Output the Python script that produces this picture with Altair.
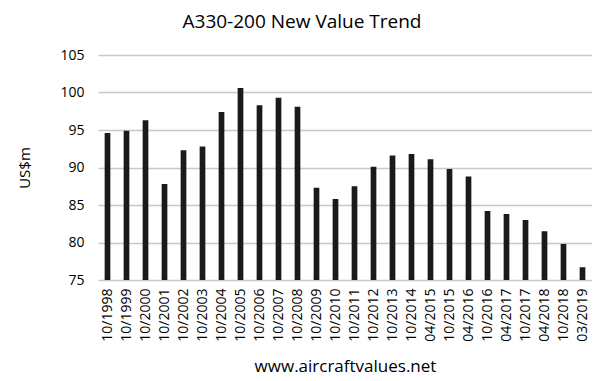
import altair as alt
import pandas as pd

dates = ["10/1998", "10/1999", "10/2000", "10/2001", "10/2002", "10/2003", "10/2004",
         "10/2005", "10/2006", "10/2007", "10/2008", "10/2009", "10/2010", "10/2011",
         "10/2012", "10/2013", "10/2014", "04/2015", "10/2015", "04/2016", "10/2016",
         "04/2017", "10/2017", "04/2018", "10/2018", "03/2019"]
values = [94.6, 94.9, 96.3, 87.8, 92.3, 92.8, 97.4, 100.6, 98.3, 99.3, 98.1, 87.3,
          85.8, 87.5, 90.1, 91.6, 91.8, 91.1, 89.8, 88.8, 84.2, 83.8, 83.0, 81.5,
          79.8, 76.7]

df = pd.DataFrame({"date": dates, "value": values})
FONT = "Open Sans"

chart = alt.Chart(df).mark_bar(color="#1a1a1a", clip=True).encode(
    x=alt.X("date:N", sort=dates,
            scale=alt.Scale(paddingInner=0.7, paddingOuter=0.35),
            axis=alt.Axis(title="www.aircraftvalues.net", labelAngle=-90,
                          labelAlign="right", labelBaseline="middle",
                          labelPadding=8, ticks=False, domain=False,
                          labelFontSize=14, titleFontSize=17,
                          titleFontWeight="normal", titlePadding=17,
                          labelColor="#000", titleColor="#000",
                          labelFont=FONT, titleFont=FONT)),
    y=alt.Y("value:Q", scale=alt.Scale(domain=[75, 105], nice=False, zero=False),
            axis=alt.Axis(title="US$m", values=[75, 80, 85, 90, 95, 100, 105],
                          ticks=False, domain=False, labelPadding=14,
                          labelFontSize=14, titleFontSize=15,
                          titleFontWeight="normal", titlePadding=27,
                          gridColor="#c8c8c8", gridWidth=1.5,
                          labelColor="#000", titleColor="#000",
                          labelFont=FONT, titleFont=FONT)),
).properties(
    width=494,
    height=225,
    title=alt.TitleParams("A330-200 New Value Trend", fontSize=19, font=FONT,
                          fontWeight="normal", anchor="middle", color="#000",
                          dx=-43, offset=16),
    autosize=alt.AutoSizeParams(type="none"),
    padding={"left": 90, "top": 47, "right": 0, "bottom": 100},
).configure_view(stroke=None)

chart.save("out.html", embed_options={"renderer": "svg", "actions": False})
